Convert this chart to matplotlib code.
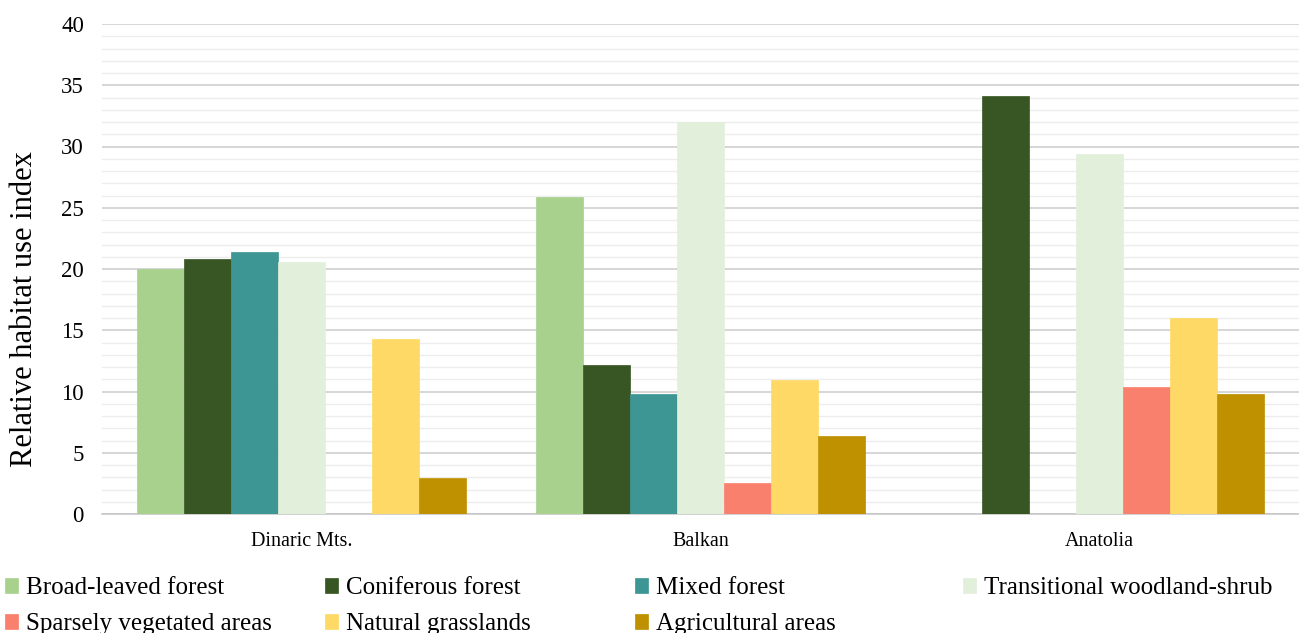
import matplotlib
matplotlib.use("Agg")
import matplotlib.pyplot as plt
import numpy as np

regions = ["Dinaric Mts.", "Balkan", "Anatolia"]
series = ["Broad-leaved forest", "Coniferous forest", "Mixed forest",
          "Transitional woodland-shrub", "Sparsely vegetated areas",
          "Natural grasslands", "Agricultural areas"]
broad_leaved = [20.0, 25.9, 0]
coniferous = [20.8, 12.2, 34.1]
mixed = [21.4, 9.8, 0]
transitional = [20.6, 32.0, 29.4]
sparse = [0, 2.5, 10.4]
grasslands = [14.3, 10.9, 16.0]
agricultural = [2.9, 6.4, 9.8]
values = [broad_leaved, coniferous, mixed, transitional, sparse, grasslands, agricultural]
colors = ["#A9D18E", "#375623", "#3D9694", "#E2EFDA", "#F8806D", "#FFD966", "#BF9000"]

plt.rcParams['font.family'] = ['Liberation Serif', 'DejaVu Serif']

fig = plt.figure(figsize=(12.99, 6.33), dpi=100)
ax = fig.add_axes([102/1299, 119/633, 1 - 102/1299, 490/633])

x = np.arange(len(regions))
w = 0.1175
handles = []
for i, (name, vals, c) in enumerate(zip(series, values, colors)):
    offs = (i - 3) * w
    b = ax.bar(x + offs, vals, width=w, color=c, label=name, zorder=3,
               edgecolor=c, linewidth=0.5)
    handles.append(b)

ax.set_xlim(-0.5, 2.5)
ax.set_ylim(0, 40)
ax.set_yticks(np.arange(0, 41, 5))
ax.set_yticks(np.arange(0, 41, 1), minor=True)
ax.tick_params(axis='y', which='both', length=0, labelsize=16.5, pad=13)
ax.tick_params(axis='x', length=0, labelsize=14.5, pad=13)
ax.set_xticks(x)
ax.set_xticklabels(regions)
ax.grid(axis='y', which='major', color='#D0D0D0', linewidth=1.2, zorder=0)
ax.grid(axis='y', which='minor', color='#EDEDED', linewidth=1.0, zorder=0)
for s in ['top', 'right', 'left']:
    ax.spines[s].set_visible(False)
ax.spines['bottom'].set_color('#C8C8C8')
ax.spines['bottom'].set_linewidth(1.2)

fig.text(25/1299, 1 - 309/633, "Relative habitat use index", rotation=90,
         ha='center', va='center', fontsize=22)

# Legend: four columns placed as in reference
col_x = [2/1299, 322/1299, 632/1299, 960/1299]
cols = [[0, 4], [1, 5], [2, 6], [3]]
for cx, idxs in zip(col_x, cols):
    fig.legend([handles[i] for i in idxs], [series[i] for i in idxs],
               loc='upper left', bbox_to_anchor=(cx, 1 - 575/633),
               frameon=False, fontsize=18, handlelength=0.55, handleheight=0.55,
               handletextpad=0.3, labelspacing=0.55, borderaxespad=0, borderpad=0.1)

fig.savefig("out.png", dpi=100)
